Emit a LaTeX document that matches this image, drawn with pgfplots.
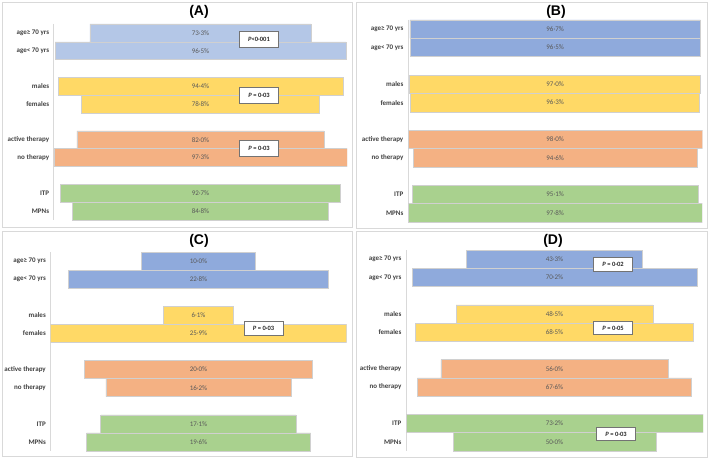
\documentclass[border=0pt]{standalone}
\usepackage{fontspec}
\setmainfont{Carlito}
\newfontfamily\arialf{Liberation Sans}
\usepackage{pgfplots}
\usepackage{pgfplotstable}
\pgfplotsset{compat=1.18}

\definecolor{blueA}{HTML}{B4C7E7}
\definecolor{blueB}{HTML}{8FAADC}
\definecolor{yel}{HTML}{FFD966}
\definecolor{ora}{HTML}{F4B183}
\definecolor{gre}{HTML}{A9D18E}
\definecolor{barline}{HTML}{D0D0D0}
\definecolor{axgray}{HTML}{D9D9D9}
\definecolor{panelgray}{HTML}{D9D9D9}
\definecolor{labgray}{HTML}{404040}
\definecolor{valgray}{HTML}{595959}

\pgfplotstableread{
pos val grp
1 73.3 1
2 96.5 1
4 94.4 2
5 78.8 2
7 82.0 3
8 97.3 3
10 92.7 4
11 84.8 4
}\tabA
\pgfplotstableread{
pos val grp
1 96.7 1
2 96.5 1
4 97.0 2
5 96.3 2
7 98.0 3
8 94.6 3
10 95.1 4
11 97.8 4
}\tabB
\pgfplotstableread{
pos val grp
1 10.0 1
2 22.8 1
4 6.1 2
5 25.9 2
7 20.0 3
8 16.2 3
10 17.1 4
11 19.6 4
}\tabC
\pgfplotstableread{
pos val grp
1 43.3 1
2 70.2 1
4 48.5 2
5 68.5 2
7 56.0 3
8 67.6 3
10 73.2 4
11 50.0 4
}\tabD

% #1 table, #2 max, #3 blue colour, #4 x, #5 y, #6 width, #7 height
\newcommand{\panel}[7]{%
\begin{axis}[
  at={(#4pt,#5pt)}, anchor=south west,
  scale only axis, width=#6pt, height=#7pt,
  xmin=0, xmax=#2, ymin=0.5, ymax=11.5, enlargelimits=false,
  y dir=reverse,
  xbar stacked, bar width=1, stacked ignores zero,
  axis x line=none, axis y line=left,
  axis line style={-, draw=axgray, line width=0.7pt},
  ytick={1,2,4,5,7,8,10,11},
  yticklabels={age≥ 70 yrs, age< 70 yrs, males, females, active therapy, no therapy, ITP, MPNs},
  major tick length=0pt,
  yticklabel style={font=\bfseries\fontsize{7}{8}\selectfont, text=labgray, inner sep=0pt, xshift=-4.5pt},
]
\addplot[draw=none, fill=none] table[x expr={(#2-\thisrow{val})/2}, y=pos] {#1};
\addplot[fill=#3, draw=barline, line width=0.6pt] table[x expr={\thisrow{grp}==1 ? \thisrow{val} : 0}, y=pos] {#1};
\addplot[fill=yel, draw=barline, line width=0.6pt] table[x expr={\thisrow{grp}==2 ? \thisrow{val} : 0}, y=pos] {#1};
\addplot[fill=ora, draw=barline, line width=0.6pt] table[x expr={\thisrow{grp}==3 ? \thisrow{val} : 0}, y=pos] {#1};
\addplot[fill=gre, draw=barline, line width=0.6pt] table[x expr={\thisrow{grp}==4 ? \thisrow{val} : 0}, y=pos] {#1};
\end{axis}
\begin{axis}[
  at={(#4pt,#5pt)}, anchor=south west,
  scale only axis, width=#6pt, height=#7pt,
  xmin=0, xmax=#2, ymin=0.5, ymax=11.5, enlargelimits=false,
  y dir=reverse, hide axis, clip=false,
  /pgf/number format/.cd, fixed, fixed zerofill, precision=1, set decimal separator={·}, assume math mode=true,
  /pgfplots/.cd,
]
\addplot[only marks, mark=none, point meta=explicit,
  nodes near coords={\pgfmathprintnumber{\pgfplotspointmeta}\%},
  every node near coord/.style={anchor=center, inner sep=0pt, font=\fontsize{7}{8}\selectfont, text=valgray}]
  table[x expr={#2/2}, y=pos, meta=val] {#1};
\end{axis}}

\tikzset{pbox/.style={draw=black!55, fill=white, line width=0.6pt, minimum width=39pt, minimum height=14.5pt, inner sep=1pt, font=\bfseries\fontsize{6.5}{7}\selectfont, text=black!85}}

\begin{document}
\begin{tikzpicture}
\path (0pt,0pt) rectangle (709pt,458pt);
\draw[panelgray, line width=0.7pt] (2pt,231pt) rectangle (352pt,456pt);
\draw[panelgray, line width=0.7pt] (356pt,230pt) rectangle (707pt,456pt);
\draw[panelgray, line width=0.7pt] (2pt,2pt) rectangle (352pt,227pt);
\draw[panelgray, line width=0.7pt] (356pt,1pt) rectangle (707pt,227pt);

\panel{\tabA}{97.3}{blueA}{53.8}{238}{293.4}{196}
\panel{\tabB}{98.0}{blueB}{408}{236}{294.3}{202}
\panel{\tabC}{25.9}{blueB}{50.5}{7}{296}{199}
\panel{\tabD}{73.2}{blueB}{406}{7}{297}{201}

\node[font=\arialf\bfseries\fontsize{14}{16}\selectfont] at (199pt,446pt) {(A)};
\node[font=\arialf\bfseries\fontsize{14}{16}\selectfont] at (556pt,446pt) {(B)};
\node[font=\arialf\bfseries\fontsize{14}{16}\selectfont] at (199pt,217pt) {(C)};
\node[font=\arialf\bfseries\fontsize{14}{16}\selectfont] at (553pt,217pt) {(D)};

\node[pbox, minimum height=16pt] at (259pt,418.5pt) {\textit{P}<0·001};
\node[pbox, minimum height=16pt] at (259pt,362.5pt) {\textit{P} = 0·03};
\node[pbox, minimum height=16pt] at (259pt,309.5pt) {\textit{P} = 0·03};
\node[pbox] at (263.5pt,129.5pt) {\textit{P} = 0·03};
\node[pbox, minimum height=13.5pt] at (613pt,193.5pt) {\textit{P} = 0·02};
\node[pbox, minimum height=13.5pt] at (613pt,130pt) {\textit{P} = 0·05};
\node[pbox, minimum height=13.5pt] at (616pt,24pt) {\textit{P} = 0·03};
\end{tikzpicture}
\end{document}
